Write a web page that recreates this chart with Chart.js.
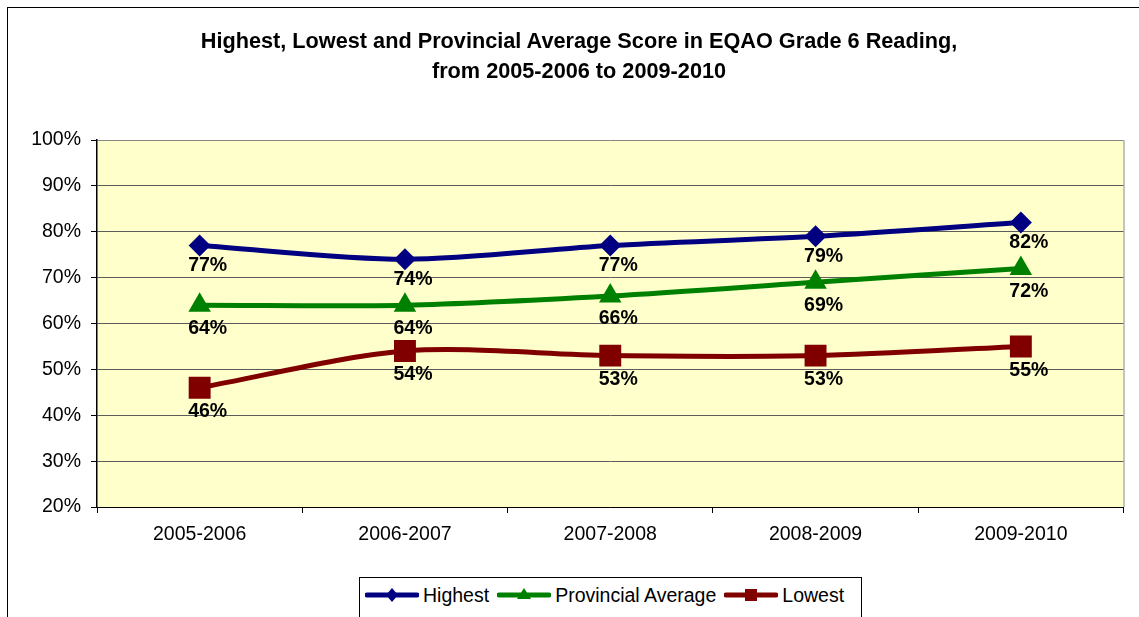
<!DOCTYPE html>
<html>
<head>
<meta charset="utf-8">
<script src="https://cdn.jsdelivr.net/npm/chart.js@4"></script>
<style>
  body { margin: 0; background: #fff; overflow: hidden; font-family: 'Liberation Sans', Arial, sans-serif; }
  #wrap { position: relative; width: 1139px; height: 617px; overflow: hidden; }
  #frame { position: absolute; left: 7px; top: 7px; width: 1160px; height: 640px; border: 1px solid #000; box-sizing: border-box; }
  #chart { position: absolute; left: 0; top: 0; }
  #title { position: absolute; left: 0; top: 26px; width: 1158px; text-align: center; font-weight: bold; font-size: 21.7px; line-height: 30px; color: #000; }
  #legend { position: absolute; left: 359px; top: 577px; width: 503px; height: 50px; border: 1px solid #000; box-sizing: border-box; background: #fff;
            display: flex; align-items: flex-start; padding: 5px 0 0 5px; font-size: 19.5px; color: #000; }
  #legend .item { display: flex; align-items: center; margin-right: 8px; height: 24px; }
  #legend svg { margin-right: 4px; }
</style>
</head>
<body>
<div id="wrap">
  <div id="frame"></div>
  <canvas id="chart" width="1139" height="617"></canvas>
  <div id="title">Highest, Lowest and Provincial Average Score in EQAO Grade 6 Reading,<br>from 2005-2006 to 2009-2010</div>
  <div id="legend"></div>
</div>
<script>
// data
const seasons = ['2005-2006', '2006-2007', '2007-2008', '2008-2009', '2009-2010'];
const highest = [77, 74, 77, 79, 82];
const provincialAvg = [64, 64, 66, 69, 72];
const lowest = [46, 54, 53, 53, 55];
const yTicks = [20, 30, 40, 50, 60, 70, 80, 90, 100];

const FONT = "'Liberation Sans', Arial, sans-serif";

// plot background + grey frame on the right
const plotBg = {
    id: 'plotBg',
    beforeDraw(chart) {
        const a = chart.chartArea, ctx = chart.ctx;
        ctx.save();
        ctx.fillStyle = '#FFFFCC';
        ctx.fillRect(a.left, a.top, a.right - a.left, a.bottom - a.top);
        ctx.restore();
    },
    afterDraw(chart) {
        const a = chart.chartArea, ctx = chart.ctx;
        ctx.save();
        ctx.strokeStyle = '#888888';
        ctx.lineWidth = 1;
        ctx.beginPath();
        ctx.moveTo(a.right + 0.5, a.top);
        ctx.lineTo(a.right + 0.5, a.bottom);
        ctx.stroke();
        ctx.restore();
    }
};

// value labels under each point
const valueLabels = {
    id: 'valueLabels',
    afterDatasetsDraw(chart) {
        const ctx = chart.ctx;
        ctx.save();
        ctx.font = 'bold 19.5px ' + FONT;
        ctx.fillStyle = '#000';
        ctx.textAlign = 'center';
        ctx.textBaseline = 'middle';
        chart.data.datasets.forEach((ds, i) => {
            chart.getDatasetMeta(i).data.forEach((pt, j) => {
                ctx.fillText(ds.data[j] + '%', pt.x + 8, pt.y + ds.labelOffset);
            });
        });
        ctx.restore();
    }
};

const datasets = [
    { label: 'Highest', data: highest, borderColor: '#000080', backgroundColor: '#000080',
      pointStyle: 'rectRot', pointRadius: 11, labelOffset: 20, marker: 'diamond' },
    { label: 'Provincial Average', data: provincialAvg, borderColor: '#008000', backgroundColor: '#008000',
      pointStyle: 'triangle', pointRadius: 13, labelOffset: 23, marker: 'triangle' },
    { label: 'Lowest', data: lowest, borderColor: '#800000', backgroundColor: '#800000',
      pointStyle: 'rect', pointRadius: 15.5, labelOffset: 24, marker: 'square' }
];
datasets.forEach(d => { d.borderWidth = 5; d.tension = 0.3; d.pointBorderWidth = 0; d.pointHoverRadius = d.pointRadius; });

new Chart(document.getElementById('chart'), {
    type: 'line',
    data: { labels: seasons, datasets: datasets },
    options: {
        responsive: false,
        animation: false,
        layout: { padding: { top: 140, left: 7, right: 8, bottom: 65 } },
        plugins: {
            legend: { display: false },
            title: { display: false },
            tooltip: { enabled: false }
        },
        scales: {
            x: {
                offset: true,
                afterFit: s => { s.height = 45; },
                grid: { offset: true, drawOnChartArea: false, tickLength: 6, tickColor: '#000' },
                border: { color: '#000', width: 1 },
                ticks: { color: '#000', font: { family: FONT, size: 19.5 }, padding: 10, maxRotation: 0 }
            },
            y: {
                min: 20, max: 100,
                afterFit: s => { s.width = 90; },
                afterBuildTicks: s => { s.ticks = yTicks.map(v => ({ value: v })); },
                grid: { color: c => (c.tick && c.tick.value === 100 ? '#888888' : '#5c5c5c'),
                        lineWidth: 1, tickLength: 6, tickColor: '#000' },
                border: { color: '#000', width: 1.5 },
                ticks: { color: '#000', font: { family: FONT, size: 19.5 }, padding: 10,
                         callback: v => v + '%' }
            }
        }
    },
    plugins: [plotBg, valueLabels]
});

// legend with line + marker icons
function markerSvg(kind, color) {
    let shape;
    if (kind === 'diamond') shape = `<polygon points="27,3 33,10 27,17 21,10" fill="${color}"/>`;
    else if (kind === 'triangle') shape = `<polygon points="27,3 34,14 20,14" fill="${color}"/>`;
    else shape = `<rect x="21" y="4" width="12" height="12" fill="${color}"/>`;
    return `<svg width="54" height="20" viewBox="0 0 54 20"><line x1="2" y1="10" x2="52" y2="10" stroke="${color}" stroke-width="5" stroke-linecap="round"/>${shape}</svg>`;
}
const legendEl = document.getElementById('legend');
datasets.forEach(d => {
    const item = document.createElement('div');
    item.className = 'item';
    item.innerHTML = markerSvg(d.marker, d.borderColor) + '<span>' + d.label + '</span>';
    legendEl.appendChild(item);
});
</script>
</body>
</html>
